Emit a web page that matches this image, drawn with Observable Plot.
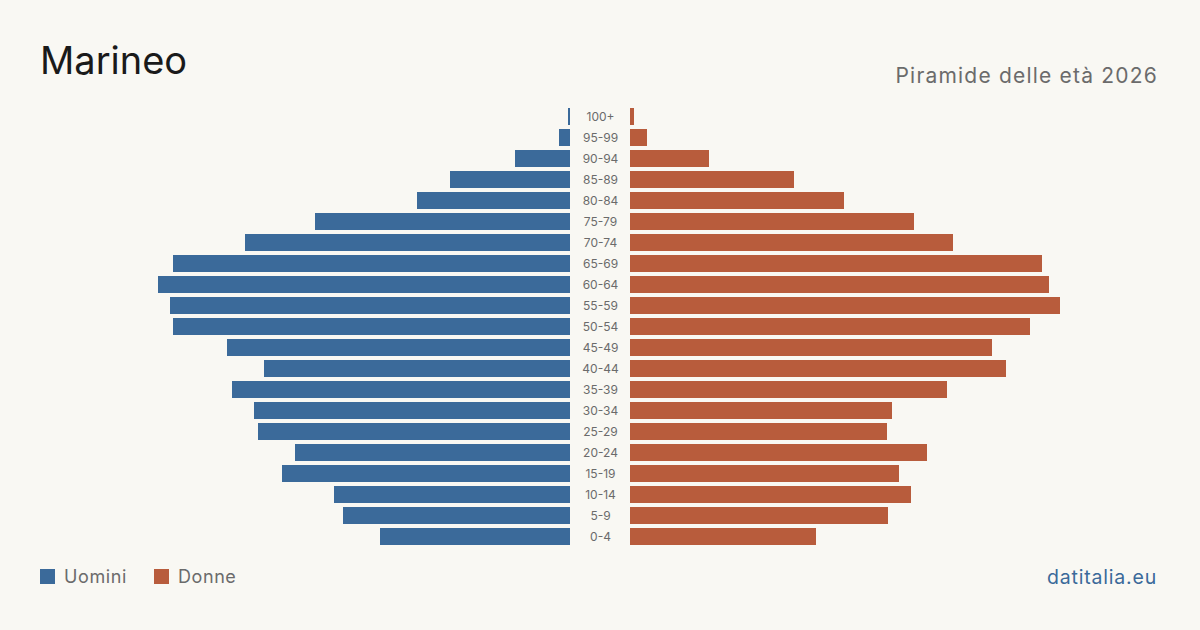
<!DOCTYPE html>
<html><head><meta charset="utf-8">
<script src="https://cdn.jsdelivr.net/npm/d3@7"></script>
<script src="https://cdn.jsdelivr.net/npm/@observablehq/plot@0.6"></script>
<style>
html,body{margin:0;padding:0;background:#f9f8f3;width:1200px;height:630px;overflow:hidden;font-family:Inter,"Noto Sans",sans-serif;}
#title{position:absolute;left:40px;top:41px;font-size:38px;color:#1a1a1a;line-height:1;}
#subtitle{position:absolute;right:42px;top:65px;font-size:21px;letter-spacing:1.2px;color:#6b6b6b;line-height:1;}
#chart{position:absolute;left:0;top:95px;}
#legend{position:absolute;left:40px;top:566px;font-size:18px;letter-spacing:0.6px;color:#6b6b6b;display:flex;align-items:center;}
#legend .sw{display:inline-block;width:15px;height:15px;margin-right:9px;}
#legend .it{display:flex;align-items:center;margin-right:27px;}
#src{position:absolute;right:43px;top:565px;font-size:19.5px;letter-spacing:0.8px;color:#3b6a9a;}
</style></head>
<body>
<div id="title">Marineo</div>
<div id="subtitle">Piramide delle età 2026</div>
<div id="chart"></div>
<div id="legend"><span class="it"><span class="sw" style="background:#3b6a9a"></span>Uomini</span><span class="it"><span class="sw" style="background:#b85c3c"></span>Donne</span></div>
<div id="src">datitalia.eu</div>
<script>
const ages = ["100+","95-99","90-94","85-89","80-84","75-79","70-74","65-69","60-64","55-59","50-54","45-49","40-44","35-39","30-34","25-29","20-24","15-19","10-14","5-9","0-4"];
const men =   [1, 5.5, 27.5, 60, 76.5, 127.5, 162.5, 198.5, 206, 200, 198.5, 171.5, 153, 169, 158, 156, 137.5, 144, 118, 113.5, 95];
const women = [2, 8.5, 39.5, 82, 107, 142, 161.5, 206, 209.5, 215, 200, 181, 188, 158.5, 131, 128.5, 148.5, 134.5, 140.5, 129, 93];
const gap = 15;
const rows = ages.map((a, i) => ({age: a, men: men[i], women: women[i]}));
const chart = Plot.plot({
  width: 1200, height: 470,
  marginLeft: 0, marginRight: 0, marginTop: 8.5, marginBottom: 15.5,
  style: {background: "transparent", fontFamily: "Inter, sans-serif"},
  x: {domain: [-300, 300], axis: null},
  y: {domain: ages, axis: null, padding: 0.19},
  marks: [
    Plot.barX(rows, {y: "age", x1: -gap, x2: d => -gap - d.men, fill: "#3b6a9a"}),
    Plot.barX(rows, {y: "age", x1: gap, x2: d => gap + d.women, fill: "#b85c3c"}),
    Plot.text(rows, {y: "age", x: 0, text: "age", fontSize: 12, fill: "#6b6b6b"})
  ]
});
document.getElementById("chart").appendChild(chart);
</script>
</body></html>
